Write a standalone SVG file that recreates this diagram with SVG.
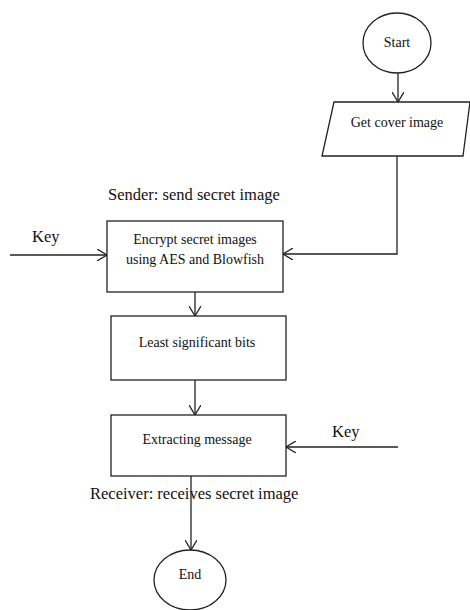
<svg xmlns="http://www.w3.org/2000/svg" width="470" height="610" viewBox="0 0 470 610">
<style>
.s{fill:#fff;stroke:#222;stroke-width:1.3}
.c{fill:none;stroke:#222;stroke-width:1.3}
.t{font-family:"Liberation Serif","Times New Roman",serif;font-size:14px;fill:#111;text-anchor:middle}
.l{font-family:"Liberation Serif","Times New Roman",serif;font-size:16.5px;fill:#111}
</style>
<defs>
<marker id="a" viewBox="0 0 10 12" refX="10" refY="6" markerWidth="10" markerHeight="12" markerUnits="userSpaceOnUse" orient="auto">
<path d="M0,0 L10,6 L0,12" fill="none" stroke="#222" stroke-width="1.3"/>
</marker>
</defs>
<rect width="470" height="610" fill="#fff"/>
<g id="start"><ellipse class="s" cx="397" cy="43" rx="34" ry="30"/><text class="t" x="397" y="47">Start</text></g>
<g id="cover"><polygon class="s" points="334,102 470,102 463,156 322,156"/><text class="t" x="397" y="127">Get cover image</text></g>
<g id="encrypt"><rect class="s" x="107" y="221" width="176" height="71"/><text class="t" x="195" y="244">Encrypt secret images</text><text class="t" x="195" y="264">using AES and Blowfish</text></g>
<g id="lsb"><rect class="s" x="111" y="316" width="175" height="64"/><text class="t" x="197" y="347">Least significant bits</text></g>
<g id="extract"><rect class="s" x="111" y="415" width="175" height="61"/><text class="t" x="197" y="444">Extracting message</text></g>
<g id="end"><ellipse class="s" cx="190" cy="580" rx="36" ry="30"/><text class="t" x="190" y="579">End</text></g>
<g id="labels">
<text class="l" x="108" y="200">Sender: send secret image</text>
<text class="l" x="32" y="242">Key</text>
<text class="l" x="332" y="437">Key</text>
<text class="l" x="90" y="499">Receiver: receives secret image</text>
</g>
<g id="connectors">
<line class="c" x1="398" y1="73" x2="398" y2="102" marker-end="url(#a)"/>
<polyline class="c" points="397,156 397,254 283,254" marker-end="url(#a)"/>
<line class="c" x1="10" y1="255" x2="107" y2="255" marker-end="url(#a)"/>
<line class="c" x1="195" y1="292" x2="195" y2="316" marker-end="url(#a)"/>
<line class="c" x1="195" y1="380" x2="195" y2="415" marker-end="url(#a)"/>
<line class="c" x1="398" y1="447" x2="286" y2="447" marker-end="url(#a)"/>
<line class="c" x1="191" y1="476" x2="191" y2="550" marker-end="url(#a)"/>
</g>
</svg>
